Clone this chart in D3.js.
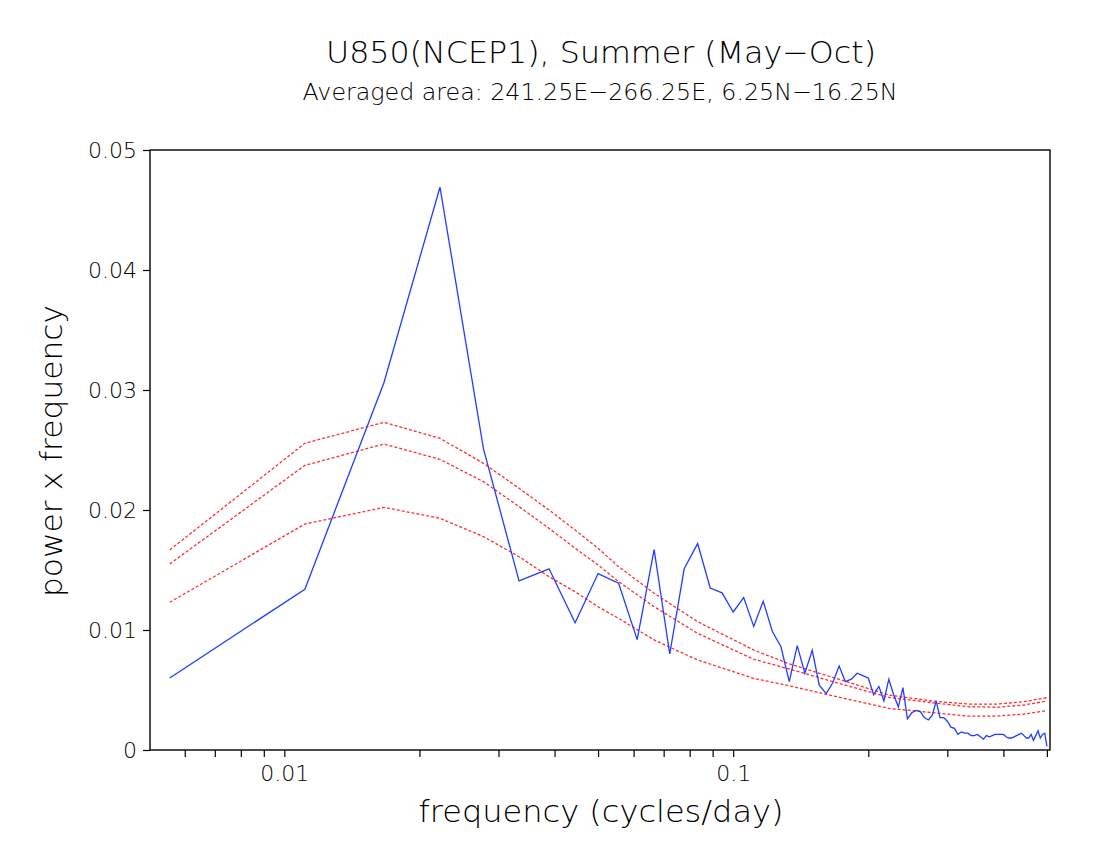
<!DOCTYPE html>
<html>
<head>
<meta charset="utf-8">
<script src="https://cdn.jsdelivr.net/npm/d3@7"></script>
<style>
  body { margin: 0; background: #fff; }
  svg text { font-family: "DejaVu Sans", sans-serif; font-weight: 200; fill: #000; }
</style>
</head>
<body>
<div id="wrapper"></div>
<script>
// spectrum of U850 (NCEP1), summer season, harmonics k = 1..90 of a 180-day record
const nDays = 180
const harmonics = d3.range(1, 91)

// power x frequency for each harmonic
const powerFreq = [
  0.0060, 0.0134, 0.0306, 0.0469, 0.0251, 0.0141, 0.0151, 0.0106, 0.0147, 0.0139,
  0.0092, 0.0167, 0.0080, 0.0151, 0.0172, 0.0135, 0.0131, 0.0115, 0.0127, 0.0103,
  0.0124, 0.0099, 0.0086, 0.0057, 0.0087, 0.0064, 0.0083, 0.0054, 0.0047, 0.0056,
  0.0070, 0.0057, 0.0059, 0.0064, 0.0062, 0.0060, 0.0046, 0.0053, 0.0041, 0.0059,
  0.0046, 0.0036, 0.0052, 0.0026, 0.0031, 0.0033, 0.0032, 0.0027, 0.0025, 0.0029,
  0.0041, 0.0027, 0.0027, 0.0024, 0.0019, 0.0018, 0.0013, 0.0015, 0.0014, 0.0014,
  0.0012, 0.0012, 0.0013, 0.0011, 0.0009, 0.0012, 0.0011, 0.0012, 0.0013, 0.0013,
  0.0013, 0.0013, 0.0011, 0.0010, 0.0010, 0.0011, 0.0012, 0.0013, 0.0014, 0.0012,
  0.0010, 0.0010, 0.0013, 0.0008, 0.0012, 0.0016, 0.0010, 0.0013, 0.0014, 0.0003
]

// red-noise background and its confidence curves, read at these harmonics
const redHarmonics = [1, 2, 3, 4, 5, 6, 7, 8, 9, 10, 12, 15, 20, 24, 30, 40, 50, 60, 70, 80, 90]
const redUpper = [
  0.01667, 0.02556, 0.02731, 0.02597, 0.02389, 0.02181, 0.02000, 0.01833, 0.01681, 0.01528,
  0.01306, 0.01069, 0.00833, 0.00718, 0.00605, 0.00458, 0.00408, 0.00383, 0.00383, 0.00403, 0.00436
]
const redMiddle = [
  0.01550, 0.02372, 0.02550, 0.02422, 0.02236, 0.02028, 0.01847, 0.01681, 0.01542, 0.01403,
  0.01194, 0.00972, 0.00756, 0.00675, 0.00570, 0.00439, 0.00394, 0.00361, 0.00356, 0.00375, 0.00408
]
const redMean = [
  0.01231, 0.01883, 0.02022, 0.01931, 0.01778, 0.01611, 0.01444, 0.01319, 0.01194, 0.01097,
  0.00917, 0.00750, 0.00597, 0.00535, 0.00452, 0.00347, 0.00311, 0.00283, 0.00283, 0.00300, 0.00328
]

const xTicks = [0.006, 0.007, 0.008, 0.009, 0.01, 0.02, 0.03, 0.04, 0.05, 0.06, 0.07, 0.08, 0.09,
                0.1, 0.2, 0.3, 0.4, 0.5]
const xLabels = [0.01, 0.1]
const yTicks = [0, 0.01, 0.02, 0.03, 0.04, 0.05]

const titleText = "U850(NCEP1), Summer (May\u2212Oct)"
const subtitleText = "Averaged area: 241.25E\u2212266.25E, 6.25N\u221216.25N"

function drawChart() {
  let dimensions = {
    width: 1100,
    height: 850,
    margin: { top: 150, right: 50, bottom: 100, left: 150 }
  }
  dimensions.boundedWidth = dimensions.width - dimensions.margin.left - dimensions.margin.right
  dimensions.boundedHeight = dimensions.height - dimensions.margin.top - dimensions.margin.bottom

  const xScale = d3.scaleLog()
    .domain([0.00502, 0.508])
    .range([0, dimensions.boundedWidth])

  const yScale = d3.scaleLinear()
    .domain([0, 0.05])
    .range([dimensions.boundedHeight, 0])

  const spectrum = harmonics.map((k, i) => ({ f: k / nDays, v: powerFreq[i] }))
  const redCurves = [redUpper, redMiddle, redMean].map(series =>
    redHarmonics.map((k, i) => ({ f: k / nDays, v: series[i] })))

  const svg = d3.select("#wrapper").append("svg")
    .attr("width", dimensions.width)
    .attr("height", dimensions.height)

  const bounds = svg.append("g")
    .attr("transform", `translate(${dimensions.margin.left}, ${dimensions.margin.top})`)

  const line = d3.line()
    .x(d => xScale(d.f))
    .y(d => yScale(d.v))

  // red noise curves
  bounds.selectAll(".red-curve")
    .data(redCurves)
    .join("path")
    .attr("class", "red-curve")
    .attr("d", line)
    .attr("fill", "none")
    .attr("stroke", "#ff2e2e")
    .attr("stroke-width", 1.3)
    .attr("stroke-dasharray", "3,2")

  // spectrum
  bounds.append("path")
    .datum(spectrum)
    .attr("d", line)
    .attr("fill", "none")
    .attr("stroke", "#1f3dff")
    .attr("stroke-width", 1.3)

  // axes
  const xAxis = d3.axisBottom(xScale)
    .tickValues(xTicks)
    .tickSize(7)
    .tickPadding(8)
    .tickFormat(d => xLabels.includes(d) ? String(d) : "")

  const xAxisGroup = bounds.append("g")
    .attr("transform", `translate(0, ${dimensions.boundedHeight})`)
    .call(xAxis)

  const yAxis = d3.axisLeft(yScale)
    .tickValues(yTicks)
    .tickSize(7)
    .tickPadding(6)
    .tickFormat(d => d === 0 ? "0" : d3.format(".2f")(d))

  const yAxisGroup = bounds.append("g")
    .call(yAxis)

  ;[xAxisGroup, yAxisGroup].forEach(g => {
    g.select(".domain").remove()
    g.selectAll(".tick line").attr("stroke", "#000").attr("stroke-width", 1.2)
    g.selectAll(".tick text")
      .attr("font-size", 22)
      .style("font-family", "'DejaVu Sans', sans-serif")
  })

  // frame
  bounds.append("rect")
    .attr("width", dimensions.boundedWidth)
    .attr("height", dimensions.boundedHeight)
    .attr("fill", "none")
    .attr("stroke", "#000")
    .attr("stroke-width", 1.4)

  // titles
  svg.append("text")
    .attr("x", 601)
    .attr("y", 63)
    .attr("text-anchor", "middle")
    .attr("font-size", 31)
    .attr("textLength", 550)
    .attr("lengthAdjust", "spacingAndGlyphs")
    .text(titleText)

  svg.append("text")
    .attr("x", 600)
    .attr("y", 100)
    .attr("text-anchor", "middle")
    .attr("font-size", 23)
    .attr("textLength", 595)
    .attr("lengthAdjust", "spacingAndGlyphs")
    .text(subtitleText)

  svg.append("text")
    .attr("x", 601)
    .attr("y", 822)
    .attr("text-anchor", "middle")
    .attr("font-size", 30)
    .attr("textLength", 365)
    .attr("lengthAdjust", "spacingAndGlyphs")
    .text("frequency (cycles/day)")

  svg.append("text")
    .attr("transform", "translate(62, 451) rotate(-90)")
    .attr("text-anchor", "middle")
    .attr("font-size", 30)
    .attr("textLength", 292)
    .attr("lengthAdjust", "spacingAndGlyphs")
    .text("power x frequency")
}
drawChart()
</script>
</body>
</html>
